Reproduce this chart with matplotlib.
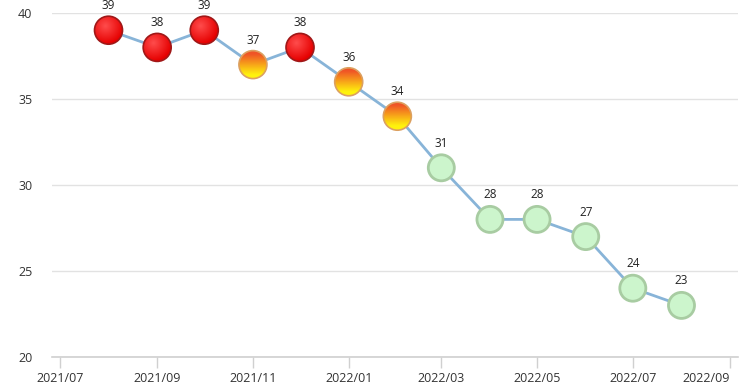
import datetime as dt

import matplotlib
matplotlib.use("Agg")
import matplotlib.pyplot as plt
import matplotlib.dates as mdates
from matplotlib.patches import Ellipse
import numpy as np

months = ["2021-08", "2021-09", "2021-10", "2021-11", "2021-12", "2022-01", "2022-02",
          "2022-03", "2022-04", "2022-05", "2022-06", "2022-07", "2022-08"]
values = [39, 38, 39, 37, 38, 36, 34, 31, 28, 28, 27, 24, 23]
levels = ["red", "red", "red", "orange", "red", "orange", "orange",
          "green", "green", "green", "green", "green", "green"]
y_ticks = [20, 25, 30, 35, 40]
x_ticks = ["2021-07", "2021-09", "2021-11", "2022-01", "2022-03", "2022-05", "2022-07", "2022-09"]


def to_num(s):
    y, m = s.split("-")
    return mdates.date2num(dt.date(int(y), int(m), 1))


xs = [to_num(m) for m in months]

plt.rcParams['font.family'] = ['Open Sans', 'DejaVu Sans']
fig = plt.figure(figsize=(7.5, 3.88), dpi=100)
ax = fig.add_axes([52 / 750, 1 - 357 / 388, 686 / 750, 344 / 388])

ax.set_xlim(to_num("2021-07") - 5, to_num("2022-09") + 5)
ax.set_ylim(20, 40)

ax.plot(xs, values, color="#88b4d8", lw=2, zorder=2)

# marker radius in data units (pixels -> data)
r_px = 14
inv = ax.transData.inverted()
p0 = inv.transform((0, 0))
p1 = inv.transform((r_px, r_px))
rx, ry = p1 - p0

n = 64
yy, xx = np.mgrid[-1:1:n * 1j, -1:1:n * 1j]

for x, v, lev in zip(xs, values, levels):
    ell = Ellipse((x, v), 2 * rx, 2 * ry, transform=ax.transData)
    if lev == "green":
        ax.add_patch(Ellipse((x, v), 2 * rx * 0.93, 2 * ry * 0.93, facecolor="#ccf5cc",
                             edgecolor="#a8cca2", lw=2, zorder=3))
        continue
    if lev == "red":
        d = np.clip(np.sqrt((xx + 0.25) ** 2 + (yy - 0.3) ** 2) / 1.3, 0, 1)
        c0 = np.array([1.0, 0.3, 0.3])
        c1 = np.array([0.9, 0.0, 0.0])
        img = c0 + (c1 - c0) * d[..., None]
        edge = "#a01818"
    else:
        t = (yy + 1) / 2  # 0 bottom .. 1 top
        t = np.clip((t - 0.15) / 0.75, 0, 1)
        c0 = np.array([1.0, 0.95, 0.05])
        c1 = np.array([0.94, 0.33, 0.15])
        img = c0 + (c1 - c0) * t[..., None]
        edge = "#dca060"
    im = ax.imshow(img, extent=[x - rx, x + rx, v - ry, v + ry], origin="lower",
                   aspect="auto", zorder=3, interpolation="bilinear")
    ax.add_patch(ell)
    ell.set_visible(False)
    im.set_clip_path(ell)
    ax.add_patch(Ellipse((x, v), 2 * rx, 2 * ry, facecolor="none",
                         edgecolor=edge, lw=1.2, zorder=4))

for x, v in zip(xs, values):
    ax.annotate(str(v), (x, v), xytext=(0, 13), textcoords="offset points",
                ha="center", va="bottom", fontsize=8.5, color="#222222",
                annotation_clip=False)

ax.set_xlim(to_num("2021-07") - 5, to_num("2022-09") + 5)
ax.set_ylim(20, 40)

ax.set_yticks(y_ticks)
ax.set_xticks([to_num(t) for t in x_ticks])
ax.set_xticklabels([t.replace("-", "/") for t in x_ticks])
ax.tick_params(axis="y", length=0, pad=14, labelsize=9, colors="#333333")
ax.tick_params(axis="x", length=8, width=1, color="#d0d0d0", pad=3,
               labelsize=9, labelcolor="#333333")
ax.grid(axis="y", color="#e2e2e2", lw=1)
ax.set_axisbelow(True)
for s in ["top", "right", "left"]:
    ax.spines[s].set_visible(False)
ax.spines["bottom"].set_color("#d0d0d0")
ax.spines["bottom"].set_linewidth(1.2)

# last label is pushed left so it fits inside the frame
last = ax.get_xticklabels()[-1]
last.set_horizontalalignment("right")
last.set_x(to_num("2022-09") + 5)

fig.savefig("out.png", dpi=100)
